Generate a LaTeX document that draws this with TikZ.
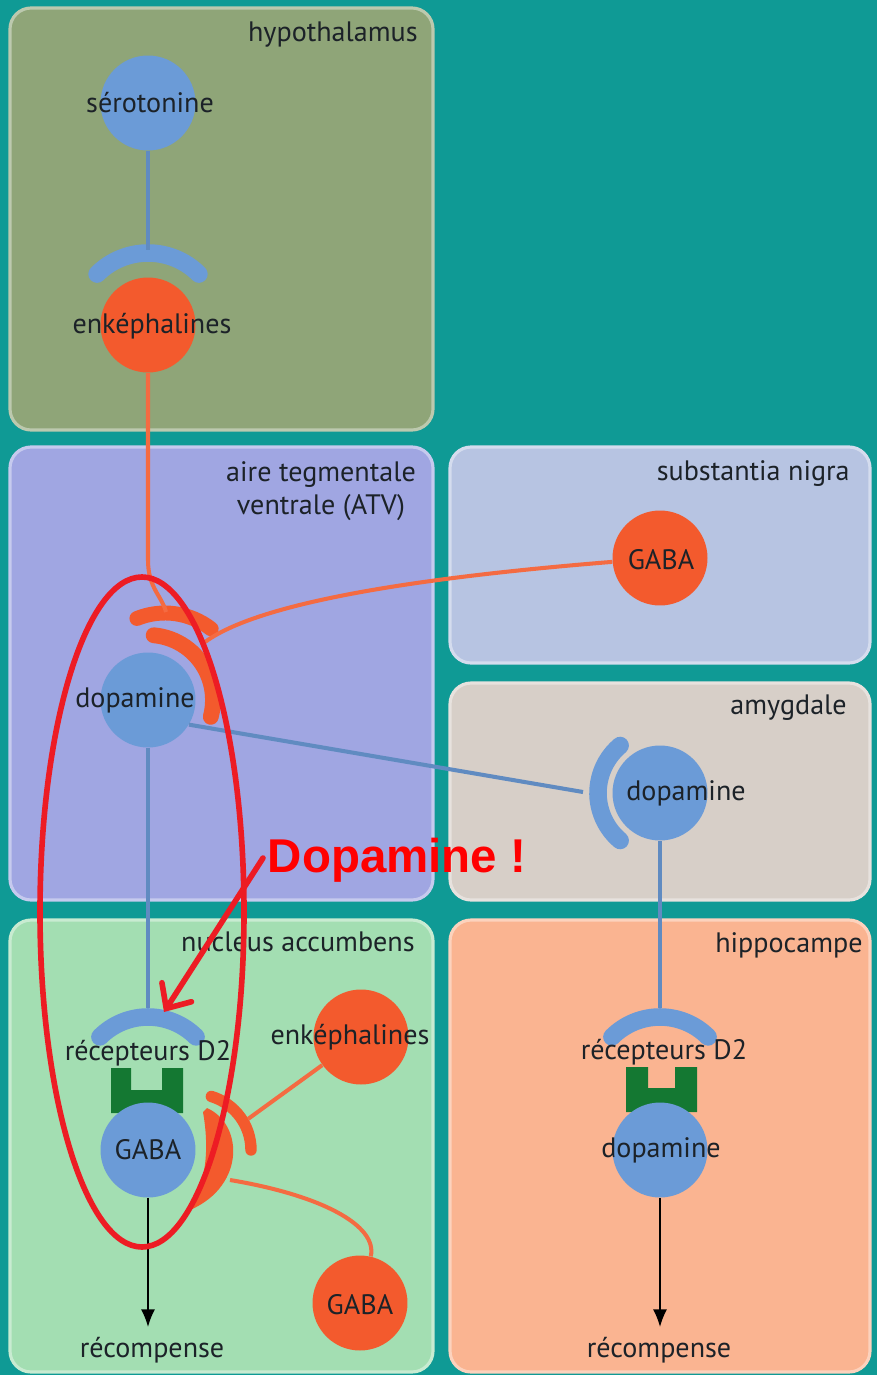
\documentclass[tikz,border=0pt]{standalone}
\usepackage{fontspec}
\setmainfont{PT Sans}
\newfontfamily\warnfont{Liberation Sans}
\usetikzlibrary{arrows.meta}

\definecolor{bgteal}{RGB}{15,154,149}
\definecolor{hypo}{RGB}{143,165,120}
\definecolor{atv}{RGB}{160,166,226}
\definecolor{nigra}{RGB}{183,196,226}
\definecolor{amyg}{RGB}{215,207,200}
\definecolor{nacc}{RGB}{163,222,178}
\definecolor{hippo}{RGB}{250,180,145}
\definecolor{nblue}{RGB}{107,155,215}
\definecolor{norange}{RGB}{243,90,45}
\definecolor{ngreen}{RGB}{20,120,50}
\definecolor{ink}{RGB}{28,34,40}
\definecolor{annot}{RGB}{237,28,36}

\begin{document}
\begin{tikzpicture}[x=0.02cm, y=-0.02cm, font=\fontsize{16}{19}\selectfont,
    panel/.style={fill=#1, draw=#1!60!white, line width=1.8pt, rounded corners=12pt},
    region/.style={text=ink, inner sep=0pt},
    neuron/.style={circle, fill=#1, minimum size=1.9cm, inner sep=0pt},
    txt/.style={text=ink, inner sep=0pt},
    cup/.style={draw=#1, line width=10pt, line cap=round},
    dend/.style={draw=nblue!90!black, line width=2.3pt},
    oax/.style={draw=norange!90!white, line width=2.3pt},
    reward/.style={draw=black, line width=1pt, -{Latex[length=10pt, width=8pt]}},
    hilite/.style={draw=annot, line width=3.2pt}]
    % background and regions
    \fill[bgteal] (0,0) rectangle (877,1375);
    \draw[panel=hypo] (10,8) rectangle (433,430);
    \draw[panel=atv] (10,447) rectangle (433,900);
    \draw[panel=nigra] (450,447) rectangle (870,663);
    \draw[panel=amyg] (450,683) rectangle (870,900);
    \draw[panel=nacc] (10,920) rectangle (433,1372);
    \draw[panel=hippo] (450,920) rectangle (870,1372);
    \node[region, anchor=east] (hypL) at (418,35) {hypothalamus};
    \node[region, align=center] (atvL) at (321,491) {aire tegmentale\\ventrale (ATV)};
    \node[region, anchor=east] (nigL) at (850,474) {substantia nigra};
    \node[region, anchor=east] (amyL) at (847,708) {amygdale};
    \node[region, anchor=east] (naccL) at (415,942) {nucleus accumbens};
    \node[region, anchor=east] (hipL) at (863,945) {hippocampe};
    % hypothalamus
    \node[neuron=nblue] (sero) at (148,103) {};
    \node[neuron=norange] (enkH) at (148,325) {};
    \draw[cup=nblue] (enkH) ++(-135:72) arc[start angle=-135, end angle=-45, radius=72];
    \coordinate (cupH) at (148,250);
    \draw[dend] (sero) -- (cupH);
    \node[txt] (seroT) at (150,103) {sérotonine};
    \node[txt] (enkHT) at (152,326) {enképhalines};
    % aire tegmentale ventrale
    \node[neuron=nblue] (dopA) at (148,700) {};
    \draw[cup=norange, line width=9pt] (dopA) ++(-85:65) arc[start angle=-85, end angle=15, radius=65];
    \draw[cup=norange, line width=8.5pt] (165,688) ++(-112:75) arc[start angle=-112, end angle=-52, radius=75];
    \coordinate (rA) at (166,612);
    \coordinate (rB) at (205,642);
    \draw[oax] (enkH) -- (148,560) .. controls (148,588) and (162,596) .. (rA);
    \node[txt] (dopAT) at (135,700) {dopamine};
    % substantia nigra
    \node[neuron=norange] (gabaS) at (660,558) {};
    \draw[oax] (gabaS) .. controls (450,575) and (265,598) .. (rB);
    \node[txt] (gabaST) at (661,560) {GABA};
    % amygdale
    \node[neuron=nblue] (dopM) at (660,793) {};
    \draw[cup=nblue] (dopM) ++(130:62) arc[start angle=130, end angle=230, radius=62];
    \coordinate (cupM) at (583,792);
    \draw[dend] (dopA.-31) -- (cupM);
    \node[txt] (dopMT) at (686,793) {dopamine};
    % nucleus accumbens
    \fill[ngreen] (111,1068) -- (131,1068) -- (131,1090) -- (162,1090) -- (162,1068)
      -- (183,1068) -- (183,1113) -- (111,1113) -- cycle;
    \node[neuron=nblue] (gabaN) at (148,1150) {};
    \draw[cup=nblue] (148,1085) ++(-135:68) arc[start angle=-135, end angle=-45, radius=68];
    \coordinate (cupN) at (148,1008);
    \draw[dend] (dopA) -- (cupN);
    \fill[norange] (207,1108) .. controls (245,1125) and (245,1190) .. (185,1212)
      .. controls (210,1185) and (208,1140) .. (203,1112) -- cycle;
    \draw[cup=norange, line width=6.5pt] (195,1150) ++(-73:56) arc[start angle=-73, end angle=0, radius=56];
    \node[neuron=norange] (enkN) at (361,1037) {};
    \node[neuron=norange] (gabaB) at (360,1303) {};
    \coordinate (rN1) at (248,1119);
    \coordinate (rN2) at (230,1180);
    \draw[oax] (enkN) -- (rN1);
    \draw[oax] (rN2) .. controls (320,1195) and (378,1225) .. (gabaB);
    \node[txt] (d2NT) at (148,1053) {récepteurs D2};
    \node[txt] (enkNT) at (350,1037) {enképhalines};
    \node[txt] (gabaNT) at (148,1150) {GABA};
    \node[txt] (gabaBT) at (360,1305) {GABA};
    \node[txt, inner sep=4pt] (rewN) at (152,1350) {récompense};
    \draw[reward] (gabaN) -- (148,1327);
    % hippocampe
    \fill[ngreen] (626,1067) -- (648,1067) -- (648,1088) -- (675,1088) -- (675,1067)
      -- (697,1067) -- (697,1112) -- (626,1112) -- cycle;
    \node[neuron=nblue] (dopP) at (660,1150) {};
    \draw[cup=nblue] (660,1085) ++(-135:68) arc[start angle=-135, end angle=-45, radius=68];
    \coordinate (cupP) at (660,1008);
    \draw[dend] (dopM) -- (cupP);
    \node[txt] (d2PT) at (664,1052) {récepteurs D2};
    \node[txt] (dopPT) at (661,1150) {dopamine};
    \node[txt, inner sep=4pt] (rewP) at (659,1350) {récompense};
    \draw[reward] (dopP) -- (660,1327);
    % annotation
    \draw[hilite] (142,912) ellipse[x radius=102, y radius=335];
    \node[text=red, font=\warnfont\bfseries\fontsize{27}{30}\selectfont, inner sep=0pt] (warnT) at (397,860) {Dopamine !};
    \coordinate (tipN) at (164,1012);
    \draw[hilite, line cap=round, -{Straight Barb[length=11pt, width=20pt, line cap=round]}] (263,858) -- (tipN);
\end{tikzpicture}
\end{document}
